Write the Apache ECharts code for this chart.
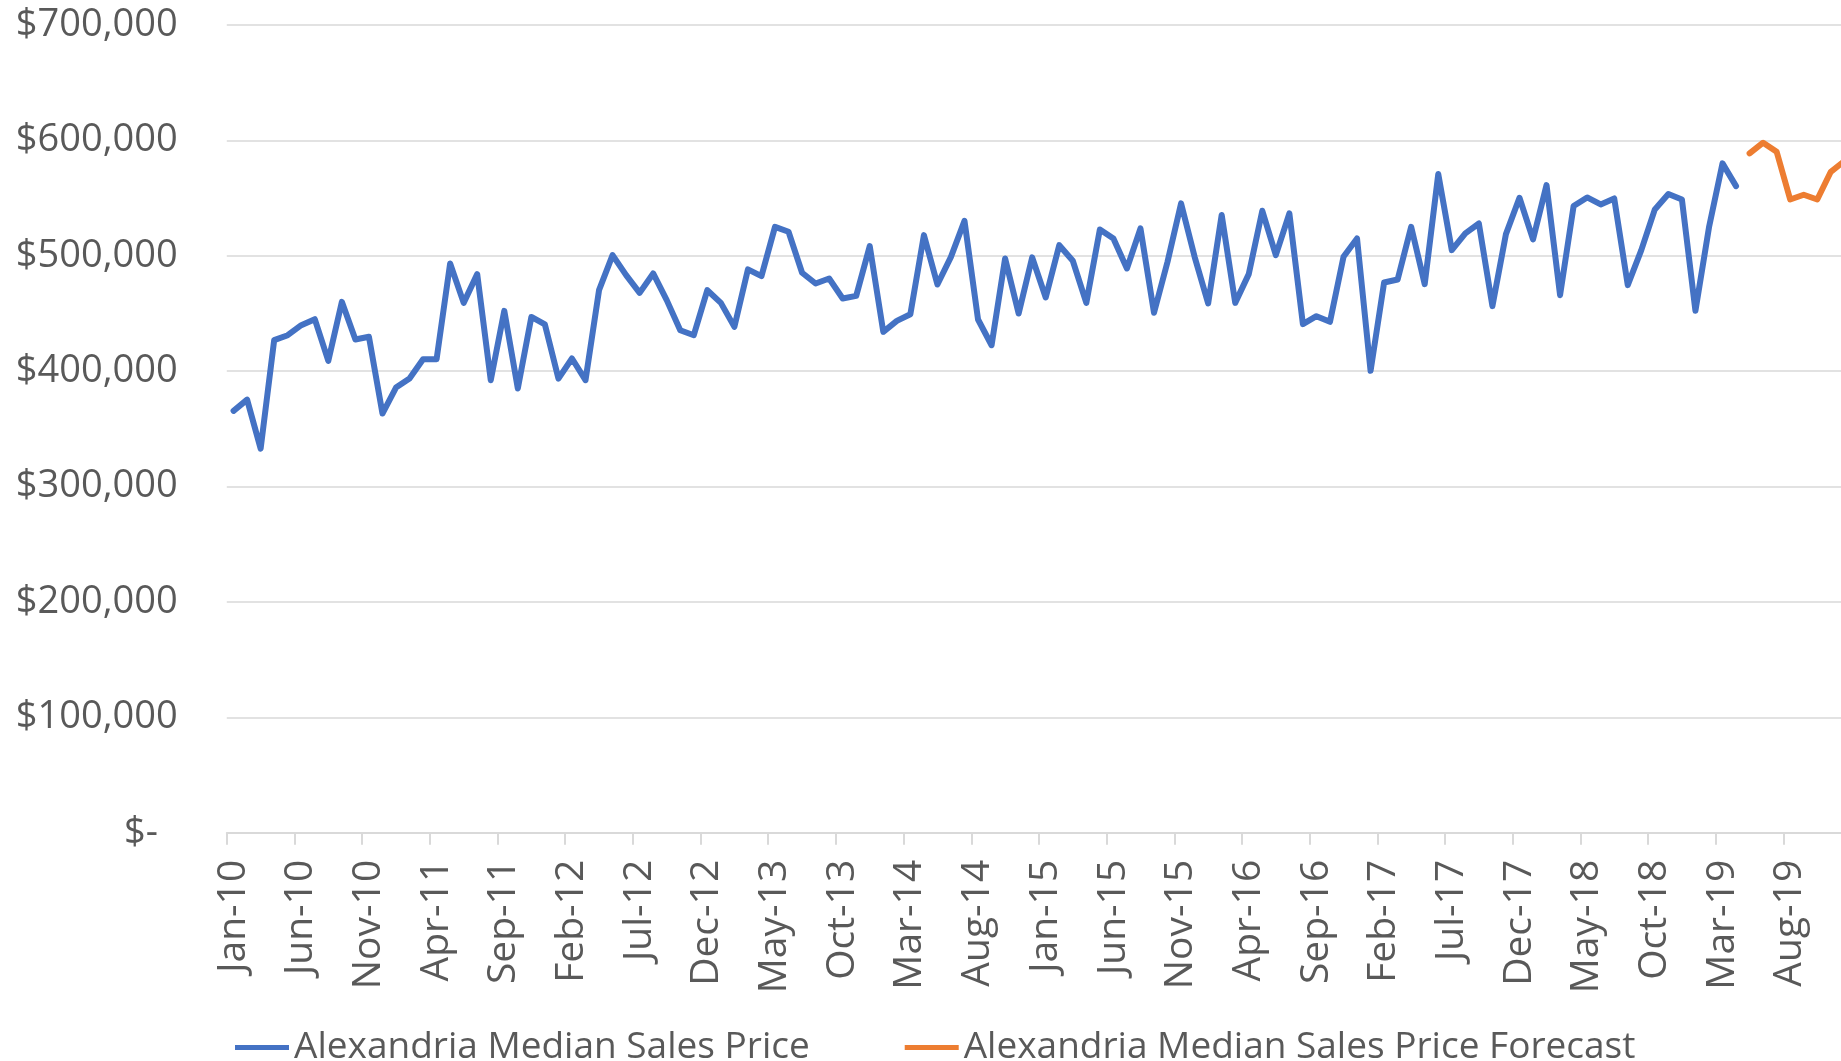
<!DOCTYPE html>
<html><head><meta charset="utf-8">
<script src="https://cdn.jsdelivr.net/npm/echarts@6/dist/echarts.min.js"></script>
<style>html,body{margin:0;padding:0;overflow:hidden;background:#fff}#c{width:1841px;height:1061px}</style>
</head><body><div id="c"></div>
<script>
const monthNames = ['Jan','Feb','Mar','Apr','May','Jun','Jul','Aug','Sep','Oct','Nov','Dec'];
const yearLabels = ['10','11','12','13','14','15','16','17','18','19'];
const categories = [];
for (const y of yearLabels) for (const m of monthNames) categories.push(m + '-' + y);

// Jan-10 .. Apr-19
const actualPrices = [
  365600, 375400, 332900, 426900, 431200, 439900, 445100, 408900, 460100, 427500, 429800, 363300,
  385800, 393600, 410400, 410400, 493400, 459200, 484100, 392200, 452300, 385000, 447000, 440500,
  393600, 411000, 392200, 470200, 500600, 483200, 467900, 484700, 461600, 435500, 431200, 470200,
  459200, 438400, 488200, 482400, 525100, 520800, 485300, 476000, 480300, 463000, 465300, 508400,
  434100, 443600, 449400, 517900, 475100, 499100, 530300, 444800, 422500, 497700, 450000, 498600,
  463900, 509200, 495700, 459200, 522800, 515000, 489000, 523700, 450600, 494800, 545400, 499100,
  458700, 535300, 459200, 484100, 539000, 500600, 536700, 440800, 447700, 442800, 499100, 515000,
  400300, 476900, 479500, 525100, 475400, 570800, 504900, 519400, 528000, 456400, 518800, 550300,
  514200, 561300, 465900, 543100, 550600, 544500, 549700, 474600, 504900, 540200, 553500, 548800,
  452300, 524600, 580100, 560400
];
// May-19 .. Dec-19
const forecastPrices = [588700, 598000, 590200, 548800, 552900, 548800, 572800, 582000];

const yMax = 700000;
const yStep = 100000;

const seriesActual = categories.map((c, i) => i < actualPrices.length ? actualPrices[i] : null);
const fStart = categories.length - forecastPrices.length;
const seriesForecast = categories.map((c, i) => i >= fStart ? forecastPrices[i - fStart] : null);

const FONT = 'Open Sans';
const TXT = '#595959';
const GRIDC = '#d9d9d9';

const chart = echarts.init(document.getElementById('c'), null, {renderer: 'canvas'});
chart.setOption({
  animation: false,
  backgroundColor: '#ffffff',
  grid: {left: 226.8, right: -10.1, top: 25, bottom: 228.2, containLabel: false, outerBoundsMode: 'none'},
  legend: {
    left: 230, top: 1024, icon: 'rect', itemWidth: 54, itemHeight: 5, itemGap: 95,
    textStyle: {fontSize: 37, color: TXT, fontFamily: FONT},
    data: ['Alexandria Median Sales Price', 'Alexandria Median Sales Price Forecast']
  },
  xAxis: {
    type: 'category', data: categories, boundaryGap: true,
    axisLine: {show: true, lineStyle: {color: GRIDC, width: 2}},
    axisTick: {show: true, interval: 4, length: 12, lineStyle: {color: GRIDC, width: 2}},
    axisLabel: {interval: 4, rotate: 90, margin: 27, fontSize: 39, color: TXT, fontFamily: FONT,
                padding: [6, 0, 0, 0]},
    splitLine: {show: false}
  },
  yAxis: {
    type: 'value', min: 0, max: yMax, interval: yStep,
    axisLine: {show: false}, axisTick: {show: false},
    splitLine: {show: true, lineStyle: {color: GRIDC, width: 1.5}},
    axisLabel: {
      margin: 49, fontSize: 38, color: TXT, fontFamily: FONT,
      formatter: v => v === 0 ? '$-  ' : '$' + v.toLocaleString('en-US')
    }
  },
  series: [
    {name: 'Alexandria Median Sales Price', type: 'line', data: seriesActual, symbol: 'none',
     connectNulls: false, itemStyle: {color: '#4472C4'},
     lineStyle: {color: '#4472C4', width: 6, cap: 'round', join: 'round'}},
    {name: 'Alexandria Median Sales Price Forecast', type: 'line', data: seriesForecast, symbol: 'none',
     connectNulls: false, itemStyle: {color: '#ED7D31'},
     lineStyle: {color: '#ED7D31', width: 6, cap: 'round', join: 'round'}}
  ]
});
</script></body></html>
